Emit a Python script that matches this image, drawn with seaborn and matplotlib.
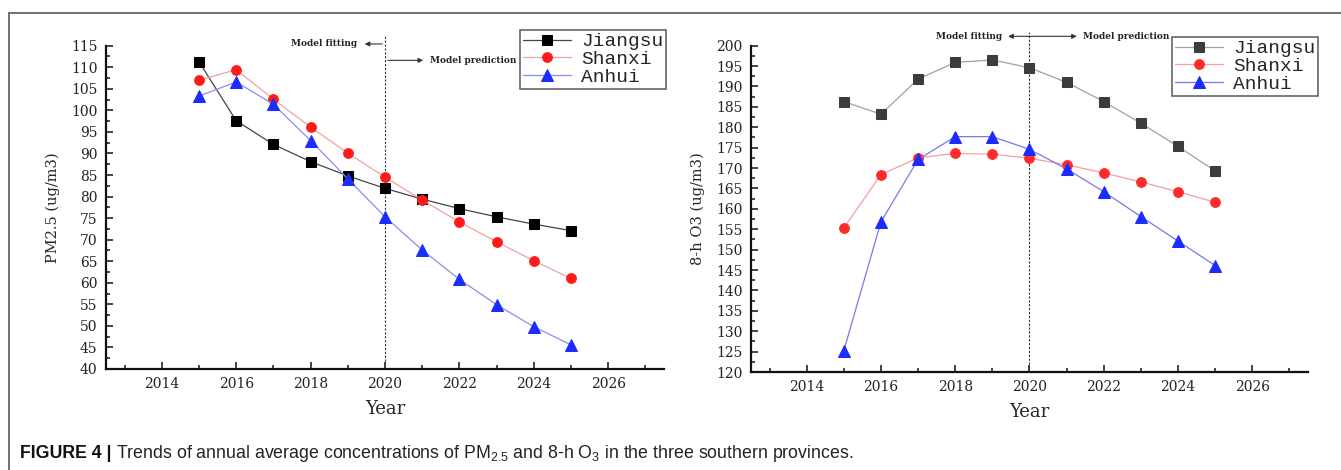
import matplotlib
matplotlib.use("Agg")
import matplotlib.pyplot as plt
from matplotlib.lines import Line2D
from matplotlib.ticker import MultipleLocator
from matplotlib.font_manager import FontProperties
import seaborn as sns

# data
years = [2015, 2016, 2017, 2018, 2019, 2020, 2021, 2022, 2023, 2024, 2025]
provinces = ["Jiangsu", "Shanxi", "Anhui"]

pm25_jiangsu = [111.3, 97.6, 92.1, 88.1, 84.8, 81.9, 79.4, 77.2, 75.3, 73.6, 72.1]
pm25_shanxi = [107.0, 109.4, 102.6, 96.1, 90.1, 84.5, 79.2, 74.1, 69.5, 65.1, 61.0]
pm25_anhui = [103.3, 106.6, 101.4, 93.0, 84.1, 75.3, 67.6, 60.8, 54.9, 49.8, 45.6]

o3_jiangsu = [186.3, 183.2, 191.8, 195.9, 196.5, 194.6, 191.0, 186.3, 181.0, 175.3, 169.3]
o3_shanxi = [155.3, 168.4, 172.5, 173.6, 173.4, 172.4, 170.8, 168.8, 166.6, 164.2, 161.6]
o3_anhui = [125.2, 156.8, 172.1, 177.7, 177.7, 174.6, 169.8, 164.2, 158.1, 152.1, 146.1]

sns.set_style("ticks")
plt.rcParams["font.family"] = ["DejaVu Serif"]
plt.rcParams["mathtext.fontset"] = "custom"
plt.rcParams["mathtext.rm"] = "Liberation Sans"
plt.rcParams["mathtext.it"] = "Liberation Sans:italic"

fig = plt.figure(figsize=(13.41, 4.70), dpi=100)
ax1 = fig.add_axes([0.0790, 0.2149, 0.4162, 0.6879])
ax2 = fig.add_axes([0.5600, 0.2085, 0.4154, 0.6943])

markers = ["s", "o", "^"]
mcolors_left = ["#000000", "#ff1a1a", "#1a2cff"]
mcolors_right = ["#3c3c3c", "#ff2a2a", "#1a2cff"]
lcolors_left = ["#444444", "#f2a0a0", "#8c8cf0"]
lcolors_right = ["#a0a0a0", "#f2a0a0", "#7878e8"]
msizes = [6.5, 7, 8]

legfont = FontProperties(family="Liberation Mono", size=14)


def draw(ax, series, mcols, lcols, ylim, ylabel, leg_anchor, top):
    for name, vals, m, mc, lc, ms in zip(provinces, series, markers, mcols, lcols, msizes):
        sns.lineplot(x=years, y=vals, ax=ax, color=lc, marker=m, markersize=ms,
                     markerfacecolor=mc, markeredgecolor=mc, linewidth=0.9, label=name)
    ax.set_xlim(2012.5, 2027.5)
    ax.set_ylim(*ylim)
    ax.xaxis.set_major_locator(MultipleLocator(2))
    ax.xaxis.set_minor_locator(MultipleLocator(1))
    ax.yaxis.set_major_locator(MultipleLocator(5))
    ax.yaxis.set_minor_locator(MultipleLocator(2.5))
    ax.tick_params(which="major", direction="in", length=5, width=1.2, labelsize=10,
                   pad=6, colors="#222222")
    ax.tick_params(which="minor", direction="in", length=3, width=1.2)
    for s in ["top", "right"]:
        ax.spines[s].set_visible(False)
    for s in ["left", "bottom"]:
        ax.spines[s].set_linewidth(1.6)
        ax.spines[s].set_color("#111111")
    ax.set_xlabel("Year", fontsize=13, labelpad=6)
    ax.set_ylabel(ylabel, fontsize=10.5, labelpad=8)
    ax.axvline(2020, ymin=0, ymax=top, color="#333333", linewidth=0.8,
               linestyle=(0, (2, 1.5)), clip_on=False, zorder=1)
    leg = ax.legend(loc="upper right", bbox_to_anchor=leg_anchor, prop=legfont,
                    fancybox=False, edgecolor="#666666", framealpha=1,
                    handlelength=2.5, labelspacing=0.0, borderpad=0.15,
                    handletextpad=0.5, borderaxespad=0)
    leg.get_frame().set_linewidth(1.2)


draw(ax1, [pm25_jiangsu, pm25_shanxi, pm25_anhui], mcolors_left, lcolors_left,
     (40, 115), "PM2.5 (ug/m3)", (1.0036, 1.0486), 1.033)
draw(ax2, [o3_jiangsu, o3_shanxi, o3_anhui], mcolors_right, lcolors_right,
     (120, 200), "8-h O3 (ug/m3)", (1.018, 1.0267), 1.042)

annot = dict(fontsize=6.5, fontweight="bold", color="#222222", va="center")
arrow = dict(arrowstyle="-|>", color="#333333", lw=0.8, mutation_scale=7)

# left panel annotations
ax1.annotate("", xy=(2019.38, 115.4), xytext=(2020, 115.4), arrowprops=arrow,
             annotation_clip=False)
ax1.text(2019.25, 115.4, "Model fitting", ha="right", clip_on=False, **annot)
ax1.annotate("", xy=(2021.1, 111.6), xytext=(2020, 111.6), arrowprops=arrow,
             annotation_clip=False)
ax1.text(2021.2, 111.6, "Model prediction", ha="left", clip_on=False, **annot)

# right panel annotations
ax2.annotate("", xy=(2019.35, 202.3), xytext=(2021.35, 202.3),
             arrowprops=dict(arrowstyle="<|-|>", color="#333333", lw=0.8, mutation_scale=7),
             annotation_clip=False)
ax2.text(2019.25, 202.3, "Model fitting", ha="right", clip_on=False, **annot)
ax2.text(2021.43, 202.3, "Model prediction", ha="left", clip_on=False, **annot)

# outer frame (top and left edge)
fig.add_artist(Line2D([9 / 1341, 1.0], [1 - 13 / 470, 1 - 13 / 470], color="#666666", lw=1.3))
fig.add_artist(Line2D([9 / 1341, 9 / 1341], [0.0, 1 - 13 / 470], color="#666666", lw=1.3))

# caption
cap_y = 1 - 453 / 470
t1 = fig.text(20 / 1341, cap_y, "FIGURE 4 |", fontsize=12.8, fontweight="bold",
              family="Liberation Sans", va="center", color="#111111")
renderer = fig.canvas.get_renderer()
bb = t1.get_window_extent(renderer=renderer)
fig.text((bb.x1 + 4) / 1341, cap_y,
         "Trends of annual average concentrations of PM$_{2.5}$ and 8-h O$_3$ in the three southern provinces.",
         fontsize=12.8, family="Liberation Sans", va="center", color="#222222")

fig.savefig("out.png", dpi=100)
